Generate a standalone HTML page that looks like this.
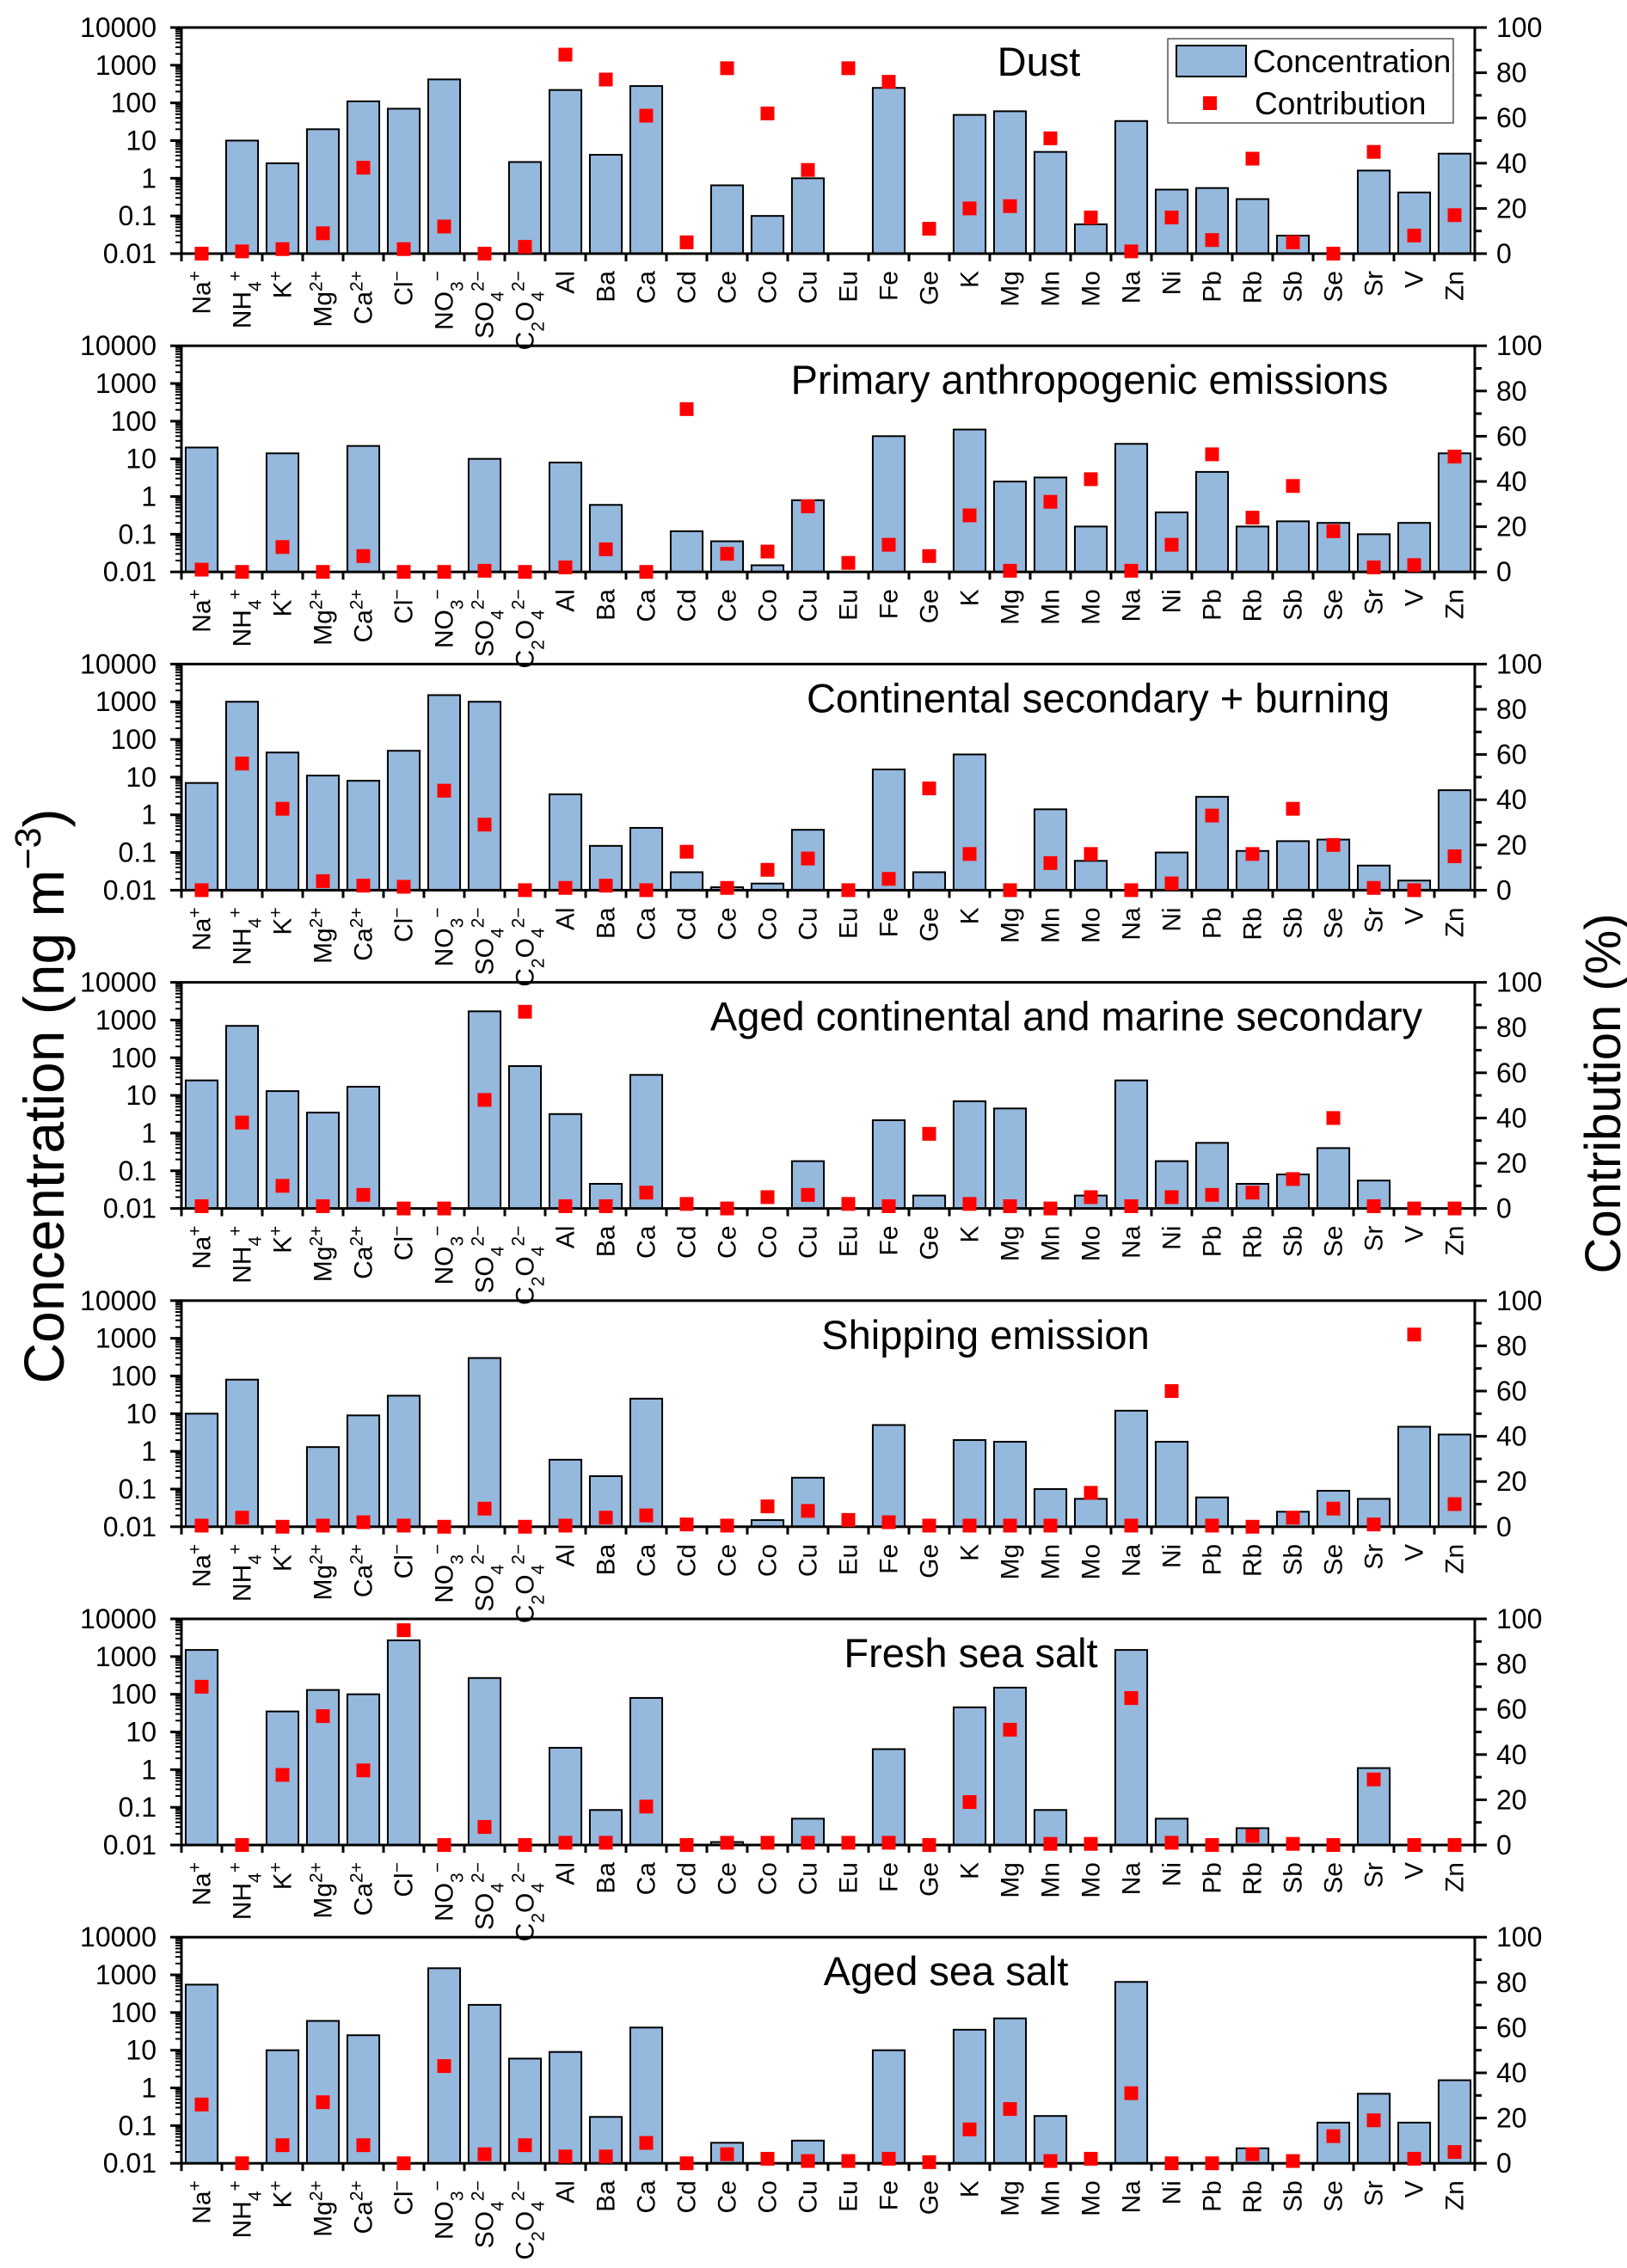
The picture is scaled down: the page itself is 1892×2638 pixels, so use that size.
<!DOCTYPE html>
<html><head><meta charset="utf-8"><style>
html,body{margin:0;padding:0;background:#fff;}
svg{display:block;font-family:"Liberation Sans",Arial,sans-serif;}
</style></head><body>
<svg id="chart" width="1892" height="2638" viewBox="0 0 1892 2638" xmlns="http://www.w3.org/2000/svg">
<text transform="translate(74,1275) rotate(-90)" text-anchor="middle" font-size="66">Concentration (ng m<tspan font-size="43" dy="-27">−3</tspan><tspan dy="27">)</tspan></text>
<text transform="translate(1884,1272) rotate(-90)" text-anchor="middle" font-size="58">Contribution (%)</text>
</svg>
<script>
const categories=["Na+","NH4+","K+","Mg2+","Ca2+","Cl-","NO3-","SO42-","C2O42-","Al","Ba","Ca","Cd","Ce","Co","Cu","Eu","Fe","Ge","K","Mg","Mn","Mo","Na","Ni","Pb","Rb","Sb","Se","Sr","V","Zn"];
const titles=["Dust","Primary anthropogenic emissions","Continental secondary + burning","Aged continental and marine secondary","Shipping emission","Fresh sea salt","Aged sea salt"];
const leftTicks=["0.01","0.1","1","10","100","1000","10000"];
const rightTicks=["0","20","40","60","80","100"];
const conc1=[null,10,2.5,20,110,70,420,null,2.7,220,4.2,280,null,0.65,0.1,1,null,250,null,48,60,5,0.06,33,0.5,0.55,0.28,0.03,null,1.6,0.42,4.5];
const contrib1=[0,1,2,9,38,2,12,0,3,88,77,61,5,82,62,37,82,76,11,20,21,51,16,1,16,6,42,5,0,45,8,17];
const conc2=[20,null,14,null,22,null,null,10,null,8,0.6,null,0.12,0.065,0.015,0.8,null,40,null,60,2.5,3.2,0.16,25,0.38,4.5,0.16,0.22,0.2,0.1,0.2,14];
const contrib2=[1,0,11,0,7,0,0,0.5,0,2,10,0,72,8,9,29,4,12,7,25,0.5,31,41,0.5,12,52,24,38,18,2,3,51];
const conc3=[7,1000,45,11,8,50,1500,1000,null,3.5,0.15,0.45,0.03,0.012,0.015,0.4,null,16,0.03,40,null,1.4,0.06,null,0.1,3,0.11,0.2,0.22,0.045,0.018,4.5];
const contrib3=[0,56,36,4,2,1.5,44,29,0,1,2,0,17,1,9,14,0,5,45,16,0,12,16,0,3,33,16,36,20,1,0,15];
const conc4=[25,700,13,3.5,17,null,null,1700,60,3.2,0.045,35,null,null,null,0.18,null,2.2,0.022,7,4.5,null,0.022,25,0.18,0.55,0.045,0.08,0.4,0.055,null,null];
const contrib4=[1,38,10,1,6,0,0,48,87,1,1,7,2,0,5,6,2,1,33,2,1,0,5,1,5,6,7,13,40,1,0,0];
const conc5=[10,80,null,1.3,9,30,null,300,null,0.6,0.22,25,null,null,0.015,0.2,null,5,null,2,1.8,0.1,0.055,12,1.8,0.06,null,0.025,0.09,0.055,4.5,2.8];
const contrib5=[0.5,4,0,0.5,2,0.5,0,8,0,0.5,4,5,1,0.5,9,7,3,2,0.5,0.5,0.5,0.5,15,0.5,60,0.5,0,4,8,1,85,10];
const conc6=[1500,null,35,130,100,2700,null,270,null,3.8,0.085,80,null,0.012,null,0.05,null,3.5,null,45,150,0.085,null,1500,0.05,null,0.028,null,null,1.1,null,null];
const contrib6=[70,0,31,57,33,95,0,8,0,1,1,17,0,1,1,1,1,1,0,19,51,0.5,0.5,65,1,0,4,0.5,0,29,0,0];
const conc7=[550,null,10,60,25,null,1500,160,6,9,0.17,40,null,0.035,null,0.04,null,10,null,35,70,0.18,null,650,null,null,0.025,null,0.12,0.7,0.12,1.6];
const contrib7=[26,0,8,27,8,0,43,4,8,3,3,9,0,4,2,1,1,2,0.5,15,24,1,2,31,0,0,4,1,12,19,2,5];
const concs=[conc1,conc2,conc3,conc4,conc5,conc6,conc7];
const contribs=[contrib1,contrib2,contrib3,contrib4,contrib5,contrib6,contrib7];

const NS="http://www.w3.org/2000/svg";
const svg=document.getElementById('chart');
const X0=211,X1=1715,TOP0=32,GAP=370.2,H=263;
const slot=(X1-X0)/categories.length;
function mk(tag,attrs,parent){const e=document.createElementNS(NS,tag);for(const k in attrs)e.setAttribute(k,attrs[k]);(parent||svg).appendChild(e);return e;}
function xCenter(i){return X0+slot*(i+0.5);}
function yLog(v,top){return top+H-(Math.log10(v)+2)*(H/6);}
function yPct(p,top){return top+H-p/100*H;}
function labelParts(c){
  const m={"Na+":[["Na",0],["+",1]],"NH4+":[["NH",0],["4",-1],["+",1]],"K+":[["K",0],["+",1]],"Mg2+":[["Mg",0],["2+",1]],"Ca2+":[["Ca",0],["2+",1]],"Cl-":[["Cl",0],["−",1]],"NO3-":[["NO",0],["3",-1],["−",1]],"SO42-":[["SO",0],["4",-1],["2−",1]],"C2O42-":[["C",0],["2",-1],["O",0],["4",-1],["2−",1]]};
  return m[c]||[[c,0]];
}
for(let p=0;p<7;p++){
  const top=TOP0+GAP*p,bot=top+H;
  const g=mk('g',{});
  
  
  concs[p].forEach((v,i)=>{
    if(v==null||v<=0.01)return;
    const y=yLog(v,top);const w=slot*0.79;
    const r=mk('rect',{x:xCenter(i)-w/2,y:y,width:w,height:bot-y,fill:'#95b8dd',stroke:'#000','stroke-width':2},g);
    
    
  });
  const fr=mk('rect',{x:X0,y:top,width:X1-X0,height:H,fill:'none',stroke:'#000','stroke-width':3},g);
  
  
  leftTicks.forEach((t,k)=>{
    const v=parseFloat(t);const y=yLog(v,top);
    mk('line',{x1:X0-13,x2:X0,y1:y,y2:y,stroke:'#000','stroke-width':3},g);
    const tx=mk('text',{x:182,y:y+11,'text-anchor':'end','font-size':32},g);tx.textContent=t;
    
    
    if(k<6){for(let m=2;m<10;m++){const ym=yLog(v*m,top);mk('line',{x1:X0-7,x2:X0,y1:ym,y2:ym,stroke:'#000','stroke-width':2},g);}}
  });
  rightTicks.forEach(t=>{
    const v=parseFloat(t);const y=yPct(v,top);
    mk('line',{x1:X1,x2:X1+14,y1:y,y2:y,stroke:'#000','stroke-width':3},g);
    if(v<100){const ym=yPct(v+10,top);mk('line',{x1:X1,x2:X1+8,y1:ym,y2:ym,stroke:'#000','stroke-width':3},g);}
    const tx=mk('text',{x:1740,y:y+11,'font-size':32},g);tx.textContent=t;
    
    
  });
  for(let i=0;i<=categories.length;i++){const x=X0+slot*i;mk('line',{x1:x,x2:x,y1:bot,y2:bot+9,stroke:'#000','stroke-width':3},g);}
  categories.forEach((c,i)=>{
    const t=mk('text',{transform:`translate(${xCenter(i)+10},${bot+20}) rotate(-90)`,'text-anchor':'end','font-size':30},g);
    
    
    labelParts(c).forEach(([s,k])=>{
      const ts=mk('tspan',{},t);ts.textContent=s;
      if(k===1){ts.setAttribute('font-size','21');ts.setAttribute('baseline-shift','super');}
      if(k===-1){ts.setAttribute('font-size','21');ts.setAttribute('baseline-shift','sub');}
    });
  });
  contribs[p].forEach((v,i)=>{
    const y=yPct(v,top);
    const r=mk('rect',{x:xCenter(i)-8,y:y-8,width:16,height:16,fill:'#ff0000'},g);
    
    
  });
  const cx=[1208,1267,1277,1240,1146,1129,1100][p];
  const tt=mk('text',{x:cx,y:top+56,'text-anchor':'middle','font-size':47},g);
  tt.textContent=titles[p];
  
  
}
const lg=mk('g',{});


mk('rect',{x:1358,y:45,width:332,height:98,fill:'#fff',stroke:'#555','stroke-width':1.5},lg);
const sw=mk('rect',{x:1368,y:53,width:81,height:36,fill:'#95b8dd',stroke:'#000','stroke-width':2},lg);


const l1=mk('text',{x:1457,y:84,'font-size':37},lg);l1.textContent='Concentration';


const mm=mk('rect',{x:1399,y:112,width:16,height:16,fill:'#ff0000'},lg);


const l2=mk('text',{x:1459,y:133,'font-size':37},lg);l2.textContent='Contribution';


</script>
</body></html>
